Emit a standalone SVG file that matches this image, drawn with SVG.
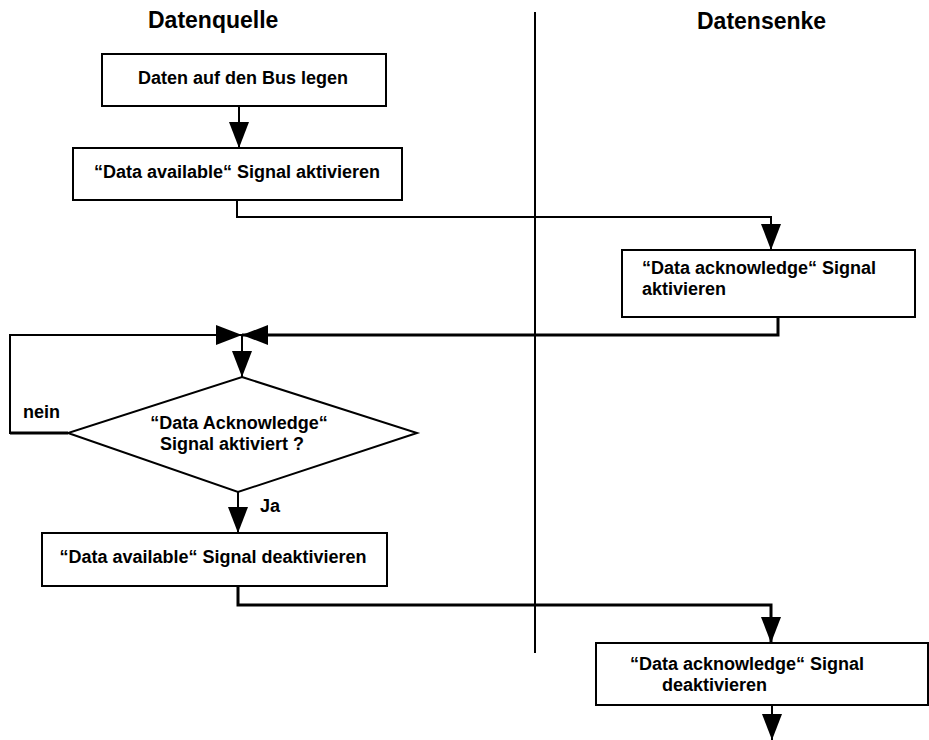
<svg xmlns="http://www.w3.org/2000/svg" width="929" height="740" viewBox="0 0 929 740">
<defs>
<style>
text{font-family:"Liberation Sans",Arial,sans-serif;font-weight:bold;fill:#000}
.t{font-size:18px}
.h{font-size:23px}
.box{fill:#fff;stroke:#000;stroke-width:2}
.ln{fill:none;stroke:#000;stroke-width:2}
.thk{fill:none;stroke:#000;stroke-width:3}
</style>
<marker id="arr" viewBox="0 0 26 20" refX="26" refY="10" markerWidth="26" markerHeight="20" markerUnits="userSpaceOnUse" orient="auto">
<path d="M0,0 L26,10 L0,20 Z" fill="#000"/>
</marker>
</defs>
<rect width="929" height="740" fill="#fff"/>
<g id="titles">
<text class="h" x="148" y="28">Datenquelle</text>
<text class="h" x="697" y="29">Datensenke</text>
</g>
<line x1="535" y1="12" x2="535" y2="653" stroke="#000" stroke-width="2"/>
<g id="connectors">
<path class="ln" d="M239,106 V148" marker-end="url(#arr)"/>
<path class="ln" d="M237,200 V217 H771 V250" marker-end="url(#arr)"/>
<path class="thk" d="M778,316 V335 H242" marker-end="url(#arr)"/>
<path class="ln" d="M68,433 H10 V335 H242" marker-end="url(#arr)"/>
<line x1="68" y1="433" x2="10" y2="433" stroke="#000" stroke-width="3"/>
<path class="ln" d="M242,335 V377" marker-end="url(#arr)"/>
<path class="ln" d="M238,492 V533" marker-end="url(#arr)"/>
<path class="thk" d="M238,586 V605 H771 V643" marker-end="url(#arr)"/>
<path class="ln" d="M772,705 V740" marker-end="url(#arr)"/>
</g>
<g id="n1">
<rect class="box" x="102" y="54" width="284" height="52"/>
<text class="t" x="243" y="84" text-anchor="middle">Daten auf den Bus legen</text>
</g>
<g id="n2">
<rect class="box" x="73" y="148" width="329" height="52"/>
<text class="t" x="237" y="178" text-anchor="middle">“Data available“ Signal aktivieren</text>
</g>
<g id="n3">
<rect class="box" x="622" y="250" width="293" height="67"/>
<text class="t" x="642" y="274">“Data acknowledge“ Signal</text>
<text class="t" x="642" y="295">aktivieren</text>
</g>
<g id="n4">
<polygon class="box" points="242,377 417,433 238,492 68,433"/>
<text class="t" x="239" y="429" text-anchor="middle">“Data Acknowledge“</text>
<text class="t" x="232" y="450" text-anchor="middle">Signal aktiviert ?</text>
</g>
<g id="labels">
<text class="t" x="23" y="418">nein</text>
<text class="t" x="260" y="512">Ja</text>
</g>
<g id="n5">
<rect class="box" x="42" y="533" width="345" height="53"/>
<text class="t" x="213" y="563" text-anchor="middle">“Data available“ Signal deaktivieren</text>
</g>
<g id="n6">
<rect class="box" x="596" y="643" width="332" height="62"/>
<text class="t" x="630" y="670">“Data acknowledge“ Signal</text>
<text class="t" x="662" y="691">deaktivieren</text>
</g>
</svg>
